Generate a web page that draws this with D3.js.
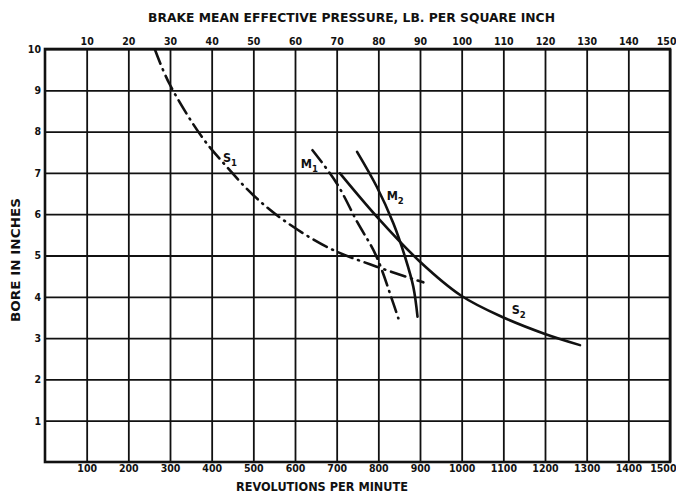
<!DOCTYPE html>
<html>
<head>
<meta charset="utf-8">
<script src="https://cdn.jsdelivr.net/npm/d3@7/dist/d3.min.js"></script>
<style>
  body { margin: 0; background: #fff; }
  text { font-family: "DejaVu Sans Condensed", "DejaVu Sans", sans-serif; font-weight: bold; fill: #111; }
</style>
</head>
<body>
<svg id="chart"></svg>
<script>
// Axis tick labels
var rpmTicks = [100, 200, 300, 400, 500, 600, 700, 800, 900, 1000, 1100, 1200, 1300, 1400, 1500];
var bmepTicks = [10, 20, 30, 40, 50, 60, 70, 80, 90, 100, 110, 120, 130, 140, 150];
var boreTicks = [1, 2, 3, 4, 5, 6, 7, 8, 9, 10];

// S curves: bore against revolutions per minute
var s1Rpm  = [264, 298, 376, 436, 500, 572, 684, 796, 908];
var s1Bore = [9.98, 9.17, 7.88, 7.15, 6.46, 5.86, 5.17, 4.73, 4.35];
var s2Rpm  = [708, 800, 900, 1000, 1100, 1200, 1284];
var s2Bore = [6.99, 5.90, 4.85, 4.02, 3.50, 3.10, 2.83];

// M curves: bore against brake mean effective pressure
var m1Bmep = [64.2, 70.0, 75.0, 79.4, 83.6, 84.8];
var m1Bore = [7.55, 6.75, 5.80, 5.01, 3.84, 3.48];
var m2Bmep = [74.9, 79.6, 83.6, 86.4, 88.4, 89.4];
var m2Bore = [7.51, 6.67, 5.78, 4.97, 4.24, 3.52];

// Curve labels (name, subscript, rpm, bore)
var labelNames = ["S", "S", "M", "M"];
var labelSubs  = ["1", "2", "1", "2"];
var labelRpm   = [427, 1120, 614, 820];
var labelBore  = [7.26, 3.58, 7.12, 6.34];

var dimensions = {
    width: 676,
    height: 494,
    margin: { top: 49, bottom: 32, right: 6, left: 45 }
};

var svg = d3.select("#chart")
    .attr("width", dimensions.width)
    .attr("height", dimensions.height);

var x0 = dimensions.margin.left, x1 = dimensions.width - dimensions.margin.right;
var y0 = dimensions.height - dimensions.margin.bottom, y1 = dimensions.margin.top;

var xRpm = d3.scaleLinear().domain([0, 1500]).range([x0, x1]);
var xBmep = d3.scaleLinear().domain([0, 150]).range([x0, x1]);
var yBore = d3.scaleLinear().domain([0, 10]).range([y0, y1]);

// grid lines
var vGrid = svg.append("g")
    .attr("transform", "translate(0," + y0 + ")")
    .call(d3.axisBottom(xRpm).tickValues(rpmTicks).tickSize(-(y0 - y1)).tickFormat(""));
var hGrid = svg.append("g")
    .attr("transform", "translate(" + x0 + ",0)")
    .call(d3.axisLeft(yBore).tickValues(boreTicks).tickSize(-(x1 - x0)).tickFormat(""));
[vGrid, hGrid].forEach(function(g) {
    g.select(".domain").remove();
    g.selectAll("line").attr("stroke", "#111").attr("stroke-width", 1.8);
});

// frame
svg.append("rect")
    .attr("x", x0).attr("y", y1)
    .attr("width", x1 - x0).attr("height", y0 - y1)
    .attr("fill", "none").attr("stroke", "#111").attr("stroke-width", 2.6);

// tick labels
function labelAxis(g) {
    g.select(".domain").remove();
    g.selectAll("line").remove();
    g.selectAll("text").attr("font-size", 10.5).attr("fill", "#111")
        .style("font-family", "'DejaVu Sans Condensed', sans-serif").style("font-weight", "bold");
}
var topAxis = svg.append("g")
    .attr("transform", "translate(0," + (y1 - 4) + ")")
    .call(d3.axisTop(xBmep).tickValues(bmepTicks).tickSize(0).tickPadding(0))
    .call(labelAxis);
var bottomAxis = svg.append("g")
    .attr("transform", "translate(0," + (y0 + 3) + ")")
    .call(d3.axisBottom(xRpm).tickValues(rpmTicks).tickSize(0).tickPadding(0).tickFormat(d3.format("d")))
    .call(labelAxis);
// last labels sit at the right edge of the page
[topAxis, bottomAxis].forEach(function(g) {
    g.selectAll(".tick").filter(function(d, i, n) { return i === n.length - 1; })
        .select("text").attr("text-anchor", "end").attr("dx", 6);
});
svg.append("g")
    .attr("transform", "translate(" + (x0 - 4) + ",0)")
    .call(d3.axisLeft(yBore).tickValues(boreTicks).tickSize(0).tickPadding(0))
    .call(labelAxis);

// axis titles
svg.append("text")
    .attr("x", 148).attr("y", 22)
    .attr("font-size", 11.5)
    .attr("textLength", 407).attr("lengthAdjust", "spacingAndGlyphs")
    .text("BRAKE MEAN EFFECTIVE PRESSURE, LB. PER SQUARE INCH");
svg.append("text")
    .attr("x", 236).attr("y", 491)
    .attr("font-size", 11.5)
    .attr("textLength", 172).attr("lengthAdjust", "spacingAndGlyphs")
    .text("REVOLUTIONS PER MINUTE");
svg.append("text")
    .attr("transform", "translate(20,322) rotate(-90)")
    .attr("font-size", 11.5)
    .attr("textLength", 124).attr("lengthAdjust", "spacingAndGlyphs")
    .text("BORE IN INCHES");

// curves
function drawCurve(xs, ys, xScale, dashed) {
    var pts = xs.map(function(v, i) { return [xScale(v), yBore(ys[i])]; });
    var line = d3.line().curve(d3.curveCatmullRom.alpha(0.5));
    svg.append("path")
        .attr("d", line(pts))
        .attr("fill", "none")
        .attr("stroke", "#111")
        .attr("stroke-width", 2.6)
        .attr("stroke-linecap", "round")
        .attr("stroke-dasharray", dashed ? "15,6,1,6" : null);
}
drawCurve(s1Rpm, s1Bore, xRpm, true);
drawCurve(s2Rpm, s2Bore, xRpm, false);
drawCurve(m1Bmep, m1Bore, xBmep, true);
drawCurve(m2Bmep, m2Bore, xBmep, false);

// curve labels
labelNames.forEach(function(n, i) {
    var t = svg.append("text")
        .attr("x", xRpm(labelRpm[i]))
        .attr("y", yBore(labelBore[i]))
        .attr("font-size", 12.5);
    t.append("tspan").text(n);
    t.append("tspan").attr("dy", 4).attr("font-size", 9.5).text(labelSubs[i]);
});
</script>
</body>
</html>
